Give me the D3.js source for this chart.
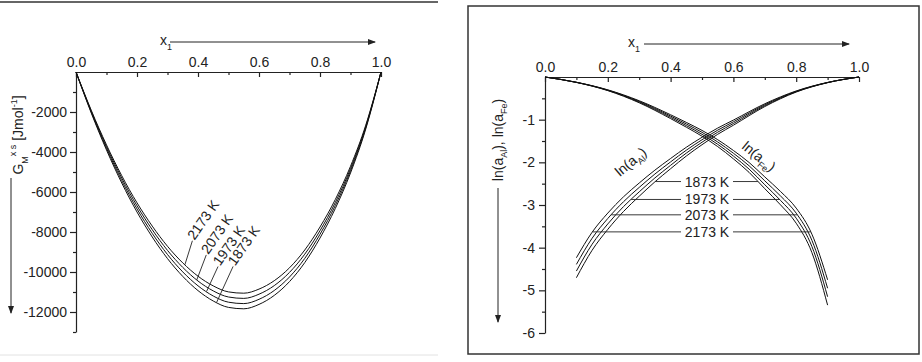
<!DOCTYPE html>
<html>
<head>
<meta charset="utf-8">
<script src="https://cdn.jsdelivr.net/npm/d3@7/dist/d3.min.js"></script>
<style>
  body { margin: 0; background: #fff; }
  svg { display: block; font-family: "Liberation Sans", Arial, sans-serif; }
  .axis path, .axis line { stroke: #222; stroke-width: 1.2; }
  .axis text { font-size: 14px; fill: #222; font-family: "Liberation Sans", Arial, sans-serif; }
  .curve { fill: none; stroke: #111; stroke-width: 1; }
  .lead { stroke: #222; stroke-width: 0.9; }
  .lbl { font-size: 14px; fill: #222; }
</style>
</head>
<body>
<svg id="chart" width="922" height="362"></svg>
<script>
// ---- data ----
const temps = ["1873 K", "1973 K", "2073 K", "2173 K"];

// left panel: excess Gibbs energy, J/mol
const gX = [0, 0.05, 0.1, 0.15, 0.2, 0.25, 0.3, 0.35, 0.4, 0.45, 0.5, 0.55, 0.6, 0.65, 0.7, 0.75, 0.8, 0.85, 0.9, 0.95, 1];
const gibbs1873 = [0, -2050, -3900, -5550, -7000, -8250, -9330, -10220, -10930, -11450, -11770, -11840, -11620, -11170, -10480, -9530, -8300, -6830, -5050, -2850, 0];
const gibbs1973 = [0, -2005, -3815, -5430, -6845, -8070, -9125, -9995, -10690, -11200, -11510, -11580, -11365, -10925, -10250, -9320, -8115, -6680, -4940, -2785, 0];
const gibbs2073 = [0, -1960, -3730, -5305, -6690, -7885, -8920, -9770, -10450, -10945, -11250, -11320, -11110, -10680, -10020, -9110, -7935, -6530, -4830, -2725, 0];
const gibbs2173 = [0, -1915, -3645, -5185, -6540, -7705, -8715, -9545, -10210, -10695, -10995, -11060, -10855, -10435, -9790, -8900, -7750, -6380, -4715, -2660, 0];
const gibbsSeries = [gibbs1873, gibbs1973, gibbs2073, gibbs2173];

// right panel: ln(a_Al) and ln(a_Fe)
const alX = [0.1, 0.15, 0.2, 0.25, 0.3, 0.35, 0.4, 0.45, 0.5, 0.55, 0.6, 0.7, 0.8, 0.9, 1];
const lnAl1873 = [-4.704, -4.061, -3.571, -3.152, -2.795, -2.457, -2.150, -1.853, -1.587, -1.343, -1.130, -0.693, -0.353, -0.133, 0];
const lnAl1973 = [-4.548, -3.920, -3.444, -3.037, -2.692, -2.366, -2.070, -1.784, -1.529, -1.294, -1.090, -0.671, -0.344, -0.131, 0];
const lnAl2073 = [-4.392, -3.780, -3.316, -2.923, -2.588, -2.274, -1.990, -1.716, -1.471, -1.246, -1.050, -0.649, -0.336, -0.129, 0];
const lnAl2173 = [-4.236, -3.639, -3.189, -2.808, -2.485, -2.183, -1.910, -1.647, -1.413, -1.197, -1.010, -0.627, -0.327, -0.127, 0];
const alSeries = [lnAl1873, lnAl1973, lnAl2073, lnAl2173];

const feX = [0, 0.1, 0.2, 0.3, 0.4, 0.45, 0.5, 0.55, 0.6, 0.65, 0.7, 0.75, 0.8, 0.85, 0.9];
const lnFe1873 = [0, -0.127, -0.319, -0.604, -0.975, -1.176, -1.388, -1.631, -1.918, -2.236, -2.618, -2.997, -3.427, -4.116, -5.347];
const lnFe1973 = [0, -0.126, -0.313, -0.588, -0.945, -1.139, -1.343, -1.577, -1.853, -2.159, -2.526, -2.892, -3.309, -3.972, -5.149];
const lnFe2073 = [0, -0.124, -0.307, -0.572, -0.915, -1.101, -1.297, -1.523, -1.787, -2.081, -2.434, -2.788, -3.191, -3.828, -4.951];
const lnFe2173 = [0, -0.123, -0.301, -0.556, -0.885, -1.064, -1.252, -1.469, -1.722, -2.004, -2.342, -2.683, -3.073, -3.684, -4.753];
const feSeries = [lnFe1873, lnFe1973, lnFe2073, lnFe2173];

// tick values
const xTicks = [0, 0.2, 0.4, 0.6, 0.8, 1.0];
const xMinor = [0.1, 0.3, 0.5, 0.7, 0.9];
const gTicks = [-2000, -4000, -6000, -8000, -10000, -12000];
const gMinor = [-1000, -3000, -5000, -7000, -9000, -11000, -13000];
const lnTicks = [-1, -2, -3, -4, -5, -6];
const lnMinor = [-0.5, -1.5, -2.5, -3.5, -4.5, -5.5];

// where the labels sit (x1 on the G curves, ln(a) level on the right)
const gLabelAt = [0.461, 0.428, 0.396, 0.357];
const lnLabelLevel = [-2.45, -2.87, -3.23, -3.63];

const svg = d3.select("#chart");

svg.append("defs").append("marker")
    .attr("id", "arr")
    .attr("markerUnits", "userSpaceOnUse")
    .attr("markerWidth", 8).attr("markerHeight", 6)
    .attr("refX", 7).attr("refY", 3)
    .attr("orient", "auto")
  .append("path").attr("d", "M0,0L8,3L0,6Z").attr("fill", "#222");

// panel frames
svg.append("line").attr("x1", 0).attr("x2", 438).attr("y1", 2).attr("y2", 2)
    .attr("stroke", "#333").attr("stroke-width", 1.5);
svg.append("line").attr("x1", 0).attr("x2", 438).attr("y1", 355).attr("y2", 355)
    .attr("stroke", "#e2e2e2").attr("stroke-width", 1);
svg.append("rect").attr("x", 468).attr("y", 6).attr("width", 451).attr("height", 348)
    .attr("fill", "none").attr("stroke", "#333").attr("stroke-width", 1.5);

// interpolate y on a polyline at x
function valueAt(xsArr, ys, x) {
    for (let i = 1; i < xsArr.length; i++) {
        if (x <= xsArr[i]) {
            const t = (x - xsArr[i - 1]) / (xsArr[i] - xsArr[i - 1]);
            return ys[i - 1] + t * (ys[i] - ys[i - 1]);
        }
    }
    return ys[ys.length - 1];
}
// find x on a monotone polyline where it reaches level v
function xAtLevel(xsArr, ys, v) {
    for (let i = 1; i < xsArr.length; i++) {
        const a = ys[i - 1], b = ys[i];
        if ((a - v) * (b - v) <= 0 && a !== b) {
            return xsArr[i - 1] + (v - a) / (b - a) * (xsArr[i] - xsArr[i - 1]);
        }
    }
    return null;
}

function xArrow(g, x0, x1, y, textX) {
    g.append("line").attr("x1", x0).attr("x2", x1).attr("y1", y).attr("y2", y)
        .attr("stroke", "#222").attr("stroke-width", 1).attr("marker-end", "url(#arr)");
    const t = g.append("text").attr("x", textX).attr("y", y + 3).attr("class", "lbl").text("x");
    t.append("tspan").attr("dy", 5).attr("font-size", 9).text("1");
}

// ================= left panel =================
const xG = d3.scaleLinear().domain([0, 1]).range([76, 381]);
const yG = d3.scaleLinear().domain([0, -13000]).range([72, 332]);
const left = svg.append("g");

left.append("g").attr("class", "axis").attr("transform", `translate(0,${yG(0)})`)
    .call(d3.axisTop(xG).tickValues(xTicks).tickFormat(d3.format(".1f"))
        .tickSize(-5).tickSizeOuter(0).tickPadding(5));
left.append("g").attr("class", "axis").attr("transform", `translate(0,${yG(0)})`)
    .call(d3.axisTop(xG).tickValues(xMinor).tickFormat("").tickSize(-3))
    .call(g => g.select(".domain").remove());

left.append("g").attr("class", "axis").attr("transform", `translate(${xG(0)},0)`)
    .call(d3.axisLeft(yG).tickValues(gTicks).tickFormat(d => String(d))
        .tickSize(6).tickSizeOuter(0).tickPadding(3));
left.append("g").attr("class", "axis").attr("transform", `translate(${xG(0)},0)`)
    .call(d3.axisLeft(yG).tickValues(gMinor).tickFormat("").tickSize(3))
    .call(g => g.select(".domain").remove());

const gLine = d3.line().x((d, i) => xG(gX[i])).y(d => yG(d)).curve(d3.curveMonotoneX);
left.selectAll(".gcurve").data(gibbsSeries).enter().append("path")
    .attr("class", "curve").attr("d", d => gLine(d));

// rotated temperature labels with leaders
const gLead = [[16.5, -36], [11.5, -25], [9.5, -25], [7.5, -24]];
gibbsSeries.forEach((s, i) => {
    const px = xG(gLabelAt[i]), py = yG(valueAt(gX, s, gLabelAt[i]));
    const tx = px + gLead[i][0], ty = py + gLead[i][1];
    left.append("line").attr("class", "lead").attr("x1", px).attr("y1", py).attr("x2", tx).attr("y2", ty);
    left.append("text").attr("class", "lbl")
        .attr("transform", `translate(${tx + 2},${ty}) rotate(-55)`)
        .text(temps[i]);
});

xArrow(left, 170, 375, 42, 160);

// y label
const yl = left.append("text").attr("class", "lbl")
    .attr("transform", "translate(23,135) rotate(-90)").attr("text-anchor", "middle");
yl.append("tspan").text("G");
yl.append("tspan").attr("dy", 5).attr("font-size", 9).text("M");
yl.append("tspan").attr("dy", -12).attr("font-size", 9).text("x s");
yl.append("tspan").attr("dy", 7).text(" [Jmol");
yl.append("tspan").attr("dy", -6).attr("font-size", 9).text("-1");
yl.append("tspan").attr("dy", 6).text("]");
left.append("line").attr("x1", 11).attr("x2", 11).attr("y1", 178).attr("y2", 313)
    .attr("stroke", "#222").attr("stroke-width", 1).attr("marker-end", "url(#arr)");

// ================= right panel =================
const xA = d3.scaleLinear().domain([0, 1]).range([545, 859]);
const yA = d3.scaleLinear().domain([0, -6]).range([77, 333]);
const right = svg.append("g");

right.append("g").attr("class", "axis").attr("transform", `translate(0,${yA(0)})`)
    .call(d3.axisTop(xA).tickValues(xTicks).tickFormat(d3.format(".1f"))
        .tickSize(-5).tickSizeOuter(0).tickPadding(5));
right.append("g").attr("class", "axis").attr("transform", `translate(0,${yA(0)})`)
    .call(d3.axisTop(xA).tickValues(xMinor).tickFormat("").tickSize(-3))
    .call(g => g.select(".domain").remove());

right.append("g").attr("class", "axis").attr("transform", `translate(${xA(0)},0)`)
    .call(d3.axisLeft(yA).tickValues(lnTicks).tickFormat(d => String(d))
        .tickSize(6).tickSizeOuter(0).tickPadding(4));
right.append("g").attr("class", "axis").attr("transform", `translate(${xA(0)},0)`)
    .call(d3.axisLeft(yA).tickValues(lnMinor).tickFormat("").tickSize(3))
    .call(g => g.select(".domain").remove());

const alLine = d3.line().x((d, i) => xA(alX[i])).y(d => yA(d)).curve(d3.curveMonotoneX);
const feLine = d3.line().x((d, i) => xA(feX[i])).y(d => yA(d)).curve(d3.curveMonotoneX);
right.selectAll(".al").data(alSeries).enter().append("path").attr("class", "curve").attr("d", d => alLine(d));
right.selectAll(".fe").data(feSeries).enter().append("path").attr("class", "curve").attr("d", d => feLine(d));

// horizontal temperature labels
const labX = 707, halfW = 22;
temps.forEach((t, i) => {
    const y = yA(lnLabelLevel[i]);
    const xl = xA(xAtLevel(alX, alSeries[i], lnLabelLevel[i]));
    const xr = xA(xAtLevel(feX, feSeries[i], lnLabelLevel[i]));
    right.append("line").attr("class", "lead").attr("x1", xl).attr("x2", labX - halfW - 4).attr("y1", y).attr("y2", y);
    right.append("line").attr("class", "lead").attr("x1", labX + halfW + 4).attr("x2", xr).attr("y1", y).attr("y2", y);
    right.append("text").attr("class", "lbl").attr("x", labX).attr("y", y + 5)
        .attr("text-anchor", "middle").text(t);
});

// curve names
const alName = right.append("text").attr("class", "lbl").attr("transform", "translate(620,177) rotate(-40)");
alName.append("tspan").text("ln(a");
alName.append("tspan").attr("dy", 4).attr("font-size", 9).text("Al");
alName.append("tspan").attr("dy", -4).text(")");
const feName = right.append("text").attr("class", "lbl").attr("transform", "translate(741,148) rotate(39)");
feName.append("tspan").text("ln(a");
feName.append("tspan").attr("dy", 4).attr("font-size", 9).text("Fe");
feName.append("tspan").attr("dy", -4).text(")");

xArrow(right, 644, 849, 44, 628);

const yr = right.append("text").attr("class", "lbl")
    .attr("transform", "translate(503,140) rotate(-90)").attr("text-anchor", "middle");
yr.append("tspan").text("ln(a");
yr.append("tspan").attr("dy", 4).attr("font-size", 9).text("Al");
yr.append("tspan").attr("dy", -4).text("), ln(a");
yr.append("tspan").attr("dy", 4).attr("font-size", 9).text("Fe");
yr.append("tspan").attr("dy", -4).text(")");
right.append("line").attr("x1", 498).attr("x2", 498).attr("y1", 188).attr("y2", 322)
    .attr("stroke", "#222").attr("stroke-width", 1).attr("marker-end", "url(#arr)");
</script>
</body>
</html>
